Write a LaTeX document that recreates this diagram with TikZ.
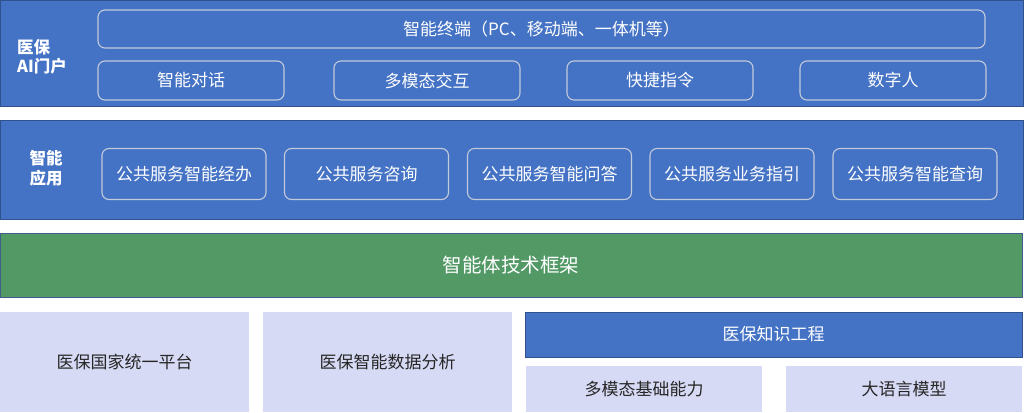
\documentclass[tikz,border=0pt]{standalone}
\usepackage{fontspec}
\setmainfont{Noto Sans CJK SC}
\definecolor{bandblue}{HTML}{4472C4}
\definecolor{bandedge}{HTML}{2F528F}
\definecolor{pill}{HTML}{C3CADB}
\definecolor{grn}{HTML}{529966}
\definecolor{grnedge}{HTML}{3E5E8C}
\definecolor{lav}{HTML}{D7DAF4}
\definecolor{dark}{HTML}{262626}
\tikzset{
  band/.style={draw=bandedge, fill=bandblue, line width=1pt},
  pillbox/.style={draw=pill, rounded corners=7pt, line width=1.1pt, text=white, font=\fontsize{17}{19}\selectfont, inner sep=0pt},
  lavbox/.style={fill=lav, text=dark, font=\fontsize{17}{19}\selectfont, inner sep=0pt},
  sidelabel/.style={text=white, font=\bfseries\fontsize{16.5}{19.5}\selectfont, align=center, inner sep=0pt},
}
\begin{document}
\begin{tikzpicture}[x=1pt,y=-1pt]
\useasboundingbox (0,0) rectangle (1024,412);
\fill[white] (0,0) rectangle (1024,412);
% top band
\draw[band] (0.5,0.5) rectangle (1023,106);
\node[sidelabel, align=left, anchor=west] (portal) at (17,57) {医保\\AI门户};
\node[pillbox, minimum width=887pt, minimum height=38pt] (term) at (541.5,29) {智能终端（PC、移动端、一体机等）};
\node[pillbox, minimum width=186pt, minimum height=39pt] (p1) at (191,80.5) {智能对话};
\node[pillbox, minimum width=186pt, minimum height=39pt] (p2) at (427,80.5) {多模态交互};
\node[pillbox, minimum width=186pt, minimum height=39pt] (p3) at (660,80.5) {快捷指令};
\node[pillbox, minimum width=186pt, minimum height=39pt] (p4) at (893,80.5) {数字人};
% second band
\draw[band] (0.5,120) rectangle (1023,219);
\node[sidelabel] (app) at (46,168) {智能\\应用};
\node[pillbox, minimum width=164pt, minimum height=51pt] (a1) at (184,174) {公共服务智能经办};
\node[pillbox, minimum width=164pt, minimum height=51pt] (a2) at (366.5,174) {公共服务咨询};
\node[pillbox, minimum width=164pt, minimum height=51pt] (a3) at (549.5,174) {公共服务智能问答};
\node[pillbox, minimum width=164pt, minimum height=51pt] (a4) at (732,174) {公共服务业务指引};
\node[pillbox, minimum width=164pt, minimum height=51pt] (a5) at (915,174) {公共服务智能查询};
% green framework
\draw[draw=grnedge, fill=grn, line width=1pt] (0.5,233) rectangle (1022,297.5);
\node[text=white, font=\fontsize{19.5}{21}\selectfont] (fw) at (511,265) {智能体技术框架};
% bottom boxes
\node[lavbox, minimum width=249pt, minimum height=100pt] (b1) at (124.5,362) {医保国家统一平台};
\node[lavbox, minimum width=249pt, minimum height=100pt] (b2) at (387.5,362) {医保智能数据分析};
\node[draw=bandedge, fill=bandblue, line width=1pt, text=white, font=\fontsize{17}{19}\selectfont, minimum width=497pt, minimum height=45pt, inner sep=0pt] (ke) at (773.5,334.5) {医保知识工程};
\node[lavbox, minimum width=236pt, minimum height=46pt] (b3) at (644,389) {多模态基础能力};
\node[lavbox, minimum width=236pt, minimum height=46pt] (b4) at (904,389) {大语言模型};
\end{tikzpicture}
\end{document}
